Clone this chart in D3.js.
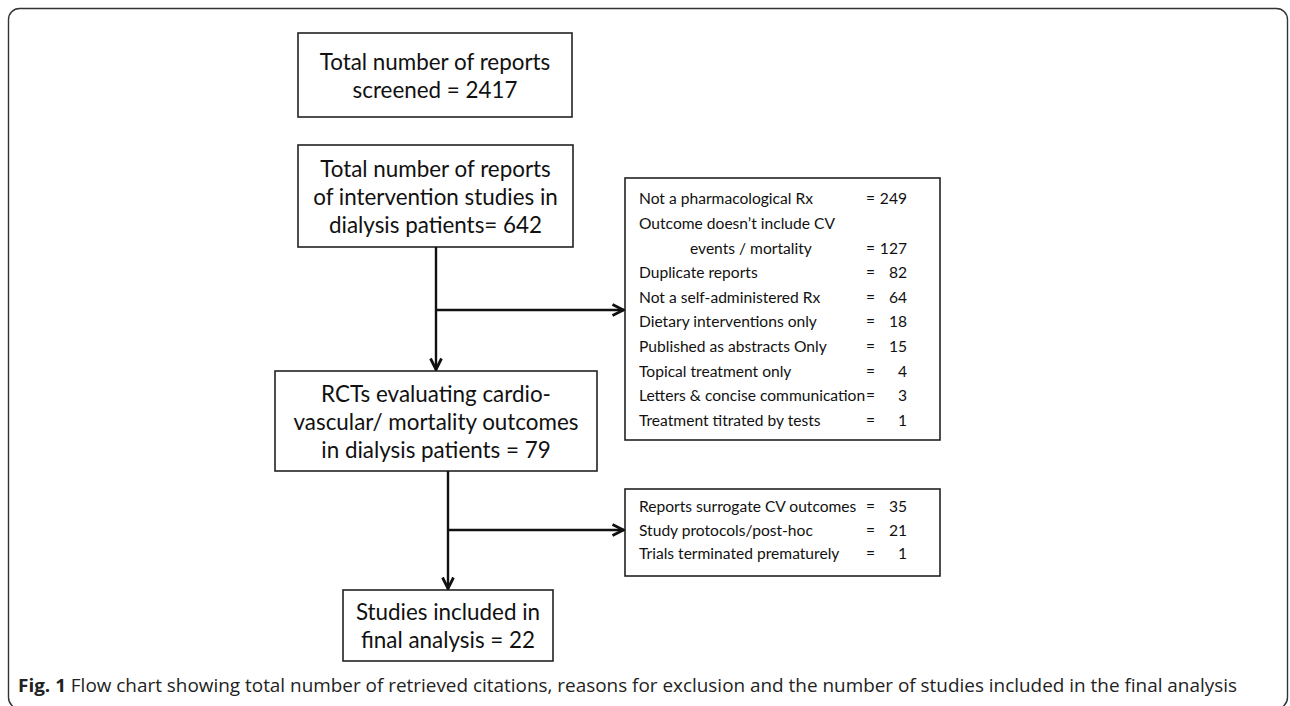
<!DOCTYPE html>
<meta charset="utf-8">
<head>
    <script src="https://d3js.org/d3.v7.min.js"></script>
    <style>
        body { margin: 0; background: white; }
        text { fill: #111; }
        .box { fill: white; stroke: #222; stroke-width: 1.6px; }
        .flow { stroke: #111; stroke-width: 2.4px; fill: none; }
    </style>
</head>
<body>
<div id="chart"></div>
<script>
    // flow steps (main column)
    var stepLines = [
        ["Total number of reports", "screened = 2417"],
        ["Total number of reports", "of intervention studies in", "dialysis patients= 642"],
        ["RCTs evaluating cardio-", "vascular/ mortality outcomes", "in dialysis patients = 79"],
        ["Studies included in", "final analysis = 22"]
    ];

    // exclusion reasons, a reason may wrap onto two lines
    var exclusionReasons1 = [
        ["Not a pharmacological Rx"],
        ["Outcome doesn\u2019t include CV", "events / mortality"],
        ["Duplicate reports"],
        ["Not a self-administered Rx"],
        ["Dietary interventions only"],
        ["Published as abstracts Only"],
        ["Topical treatment only"],
        ["Letters & concise communication"],
        ["Treatment titrated by tests"]
    ];
    var exclusionCounts1 = [249, 127, 82, 64, 18, 15, 4, 3, 1];

    var exclusionReasons2 = [
        ["Reports surrogate CV outcomes"],
        ["Study protocols/post-hoc"],
        ["Trials terminated prematurely"]
    ];
    var exclusionCounts2 = [35, 21, 1];

    var caption = "Flow chart showing total number of retrieved citations, reasons for exclusion and the number of studies included in the final analysis";

    var width = 1290, height = 706;

    var svg = d3.select("#chart").append("svg")
        .attr("width", width)
        .attr("height", height);

    // outer frame, runs off the right and bottom edge
    svg.append("rect")
        .attr("x", 8.5).attr("y", 8.5)
        .attr("width", 1279).attr("height", 700)
        .attr("rx", 11).attr("ry", 11)
        .attr("fill", "none")
        .attr("stroke", "#333")
        .attr("stroke-width", 1.4);

    // box geometry for the main column
    var stepBoxes = [
        {x: 298, y: 33, w: 274, h: 84},
        {x: 298, y: 145, w: 275, h: 102},
        {x: 275, y: 371, w: 322, h: 100},
        {x: 343, y: 590, w: 210, h: 71}
    ];
    var lineGap = 28;

    var steps = svg.selectAll("g.step")
        .data(stepLines)
        .enter().append("g")
        .attr("class", "step");

    steps.append("rect")
        .attr("class", "box")
        .attr("x", function(d, i) { return stepBoxes[i].x; })
        .attr("y", function(d, i) { return stepBoxes[i].y; })
        .attr("width", function(d, i) { return stepBoxes[i].w; })
        .attr("height", function(d, i) { return stepBoxes[i].h; });

    steps.each(function(lines, i) {
        var b = stepBoxes[i];
        var mid = b.y + b.h / 2 + 1;
        var y = d3.scaleLinear()
            .domain([0, lines.length - 1])
            .range([mid - (lines.length - 1) * lineGap / 2, mid + (lines.length - 1) * lineGap / 2]);
        d3.select(this).selectAll("text")
            .data(lines)
            .enter().append("text")
            .attr("x", b.x + b.w / 2)
            .attr("y", function(t, j) { return y(j); })
            .attr("dy", "0.35em")
            .attr("text-anchor", "middle")
            .style("font-family", "Lato, sans-serif")
            .style("font-size", "22.4px")
            .text(function(t) { return t; });
    });

    // exclusion boxes
    function exclusionBox(reasons, counts, box, firstY, gap) {
        var rows = [];
        reasons.forEach(function(r, i) {
            r.forEach(function(line, j) {
                rows.push({text: line, wrapped: j > 0, count: j === r.length - 1 ? counts[i] : null});
            });
        });
        var y = d3.scaleLinear()
            .domain([0, rows.length - 1])
            .range([firstY, firstY + gap * (rows.length - 1)]);

        var g = svg.append("g");
        g.append("rect")
            .attr("class", "box")
            .attr("x", box.x).attr("y", box.y)
            .attr("width", box.w).attr("height", box.h);

        var row = g.selectAll("g.row")
            .data(rows)
            .enter().append("g")
            .attr("class", "row")
            .attr("transform", function(d, i) { return "translate(0," + y(i) + ")"; })
            .style("font-family", "Lato, sans-serif")
            .style("font-size", "15.6px");

        row.append("text")
            .attr("x", function(d) { return box.x + (d.wrapped ? 65 : 14); })
            .attr("dy", "0.35em")
            .text(function(d) { return d.text; });

        var counted = row.filter(function(d) { return d.count !== null; });
        counted.append("text")
            .attr("x", 866)
            .attr("dy", "0.35em")
            .text("=");
        counted.append("text")
            .attr("x", 907)
            .attr("dy", "0.35em")
            .attr("text-anchor", "end")
            .text(function(d) { return d.count; });
    }

    exclusionBox(exclusionReasons1, exclusionCounts1, {x: 625, y: 178, w: 315, h: 262}, 199, 24.6);
    exclusionBox(exclusionReasons2, exclusionCounts2, {x: 625, y: 489, w: 315, h: 87}, 507, 23.5);

    // arrows
    var defs = svg.append("defs");
    defs.append("marker")
        .attr("id", "head")
        .attr("viewBox", "0 0 14 14")
        .attr("refX", 13).attr("refY", 7)
        .attr("markerWidth", 14).attr("markerHeight", 14)
        .attr("markerUnits", "userSpaceOnUse")
        .attr("orient", "auto")
        .append("path")
        .attr("d", "M1.5,1.5 L12.5,7 L1.5,12.5")
        .attr("fill", "none")
        .attr("stroke", "#111")
        .attr("stroke-width", 2.8);

    var arrows = [
        [[436, 247], [436, 370]],
        [[436, 310], [624, 310]],
        [[448, 471], [448, 589]],
        [[448, 530], [624, 530]]
    ];
    svg.selectAll("path.flow")
        .data(arrows)
        .enter().append("path")
        .attr("class", "flow")
        .attr("d", d3.line())
        .attr("marker-end", "url(#head)");

    // caption
    var cap = svg.append("text")
        .attr("x", 18).attr("y", 692)
        .attr("textLength", 1219)
        .attr("lengthAdjust", "spacingAndGlyphs")
        .style("font-family", "'Open Sans', sans-serif")
        .style("font-size", "18.5px")
        .style("fill", "#222");
    cap.append("tspan").style("font-weight", "bold").text("Fig. 1");
    cap.append("tspan").text(" " + caption);
</script>
</body>
